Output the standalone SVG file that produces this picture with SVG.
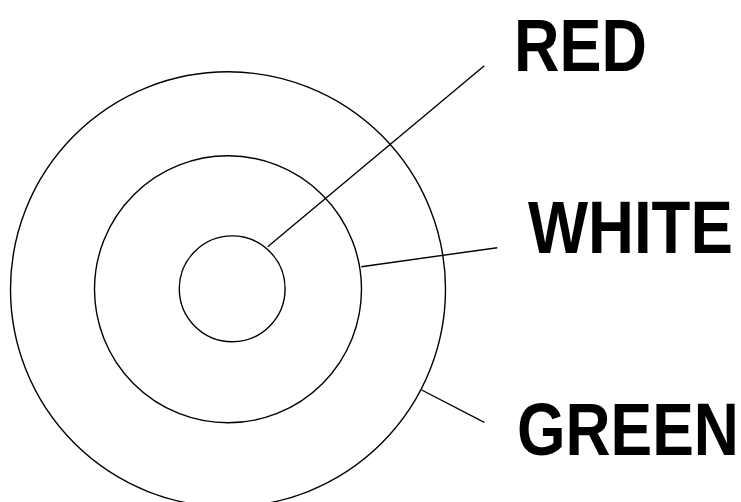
<svg xmlns="http://www.w3.org/2000/svg" width="741" height="502" viewBox="0 0 741 502">
<style>
.ring{fill:none;stroke:#000;stroke-width:1.4}
.lead{stroke:#000;stroke-width:1.4;fill:none}
.lbl{font-family:"Liberation Sans",Arial,sans-serif;font-weight:bold;font-size:75px;fill:#000}
</style>
<rect width="741" height="502" fill="#fff"/>
<g id="outer"><circle class="ring" cx="228" cy="289.3" r="217.5"/></g>
<g id="middle"><circle class="ring" cx="228" cy="289.3" r="133.5"/></g>
<g id="inner"><circle class="ring" cx="232.2" cy="288.8" r="52.9"/></g>
<g id="connectors">
<line class="lead" x1="267.7" y1="246.7" x2="484.3" y2="65.7"/>
<line class="lead" x1="361.3" y1="266.7" x2="497.3" y2="247.7"/>
<line class="lead" x1="421.7" y1="390" x2="484.3" y2="422.3"/>
</g>
<g id="label-red"><text class="lbl" transform="translate(514,71) scale(0.84,1)">RED</text></g>
<g id="label-white"><text class="lbl" transform="translate(528,253) scale(0.848,1)">WHITE</text></g>
<g id="label-green"><text class="lbl" transform="translate(517,455) scale(0.832,1)">GREEN</text></g>
</svg>
